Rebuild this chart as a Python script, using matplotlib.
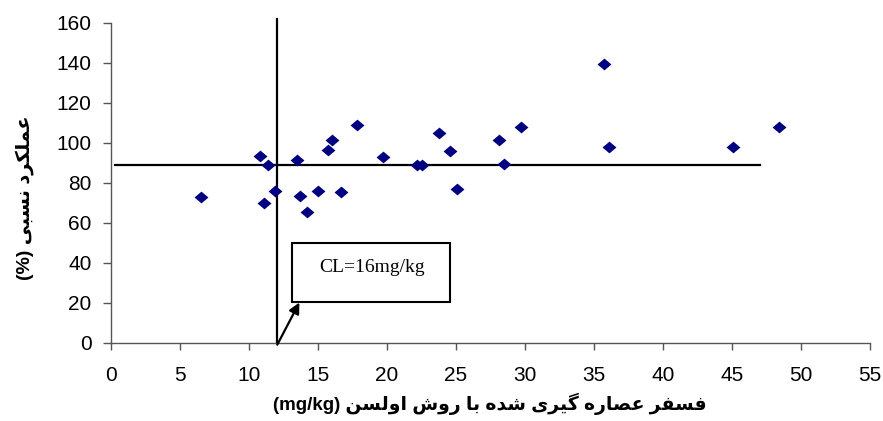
import matplotlib
matplotlib.use("Agg")
import matplotlib.pyplot as plt
from matplotlib.patches import Rectangle

# ---------------- data ----------------
olsen_p = [6.5, 10.8, 11.4, 11.1, 11.9, 13.5, 13.7, 14.2, 15.0, 15.7, 16.0, 16.7,
           17.8, 19.7, 22.2, 22.5, 23.8, 24.6, 25.1, 28.1, 28.5, 29.7, 35.7, 36.1,
           45.1, 48.4]
rel_yield = [72.7, 93.5, 88.7, 69.7, 76.0, 91.2, 73.5, 65.5, 75.8, 96.5, 101.5, 75.2,
             108.7, 92.7, 88.7, 88.7, 104.7, 95.8, 76.7, 101.6, 89.3, 107.8, 139.2, 97.7,
             97.7, 107.8]
critical_x = 12          # vertical critical-level line
critical_y = 89          # horizontal line
hline_x = [0.3, 47]
vline_y = [0, 162]
x_ticks = [0, 5, 10, 15, 20, 25, 30, 35, 40, 45, 50, 55]
y_ticks = [0, 20, 40, 60, 80, 100, 120, 140, 160]
annot_text = "CL=16mg/kg"
xlabel_fa = "فسفر عصاره گیری شده با روش اولسن"
xlabel_unit = "(mg/kg)"
ylabel_fa = "عملکرد نسبی"
ylabel_unit = "(%)"

# ---------------- minimal Arabic/Persian shaping ----------------
FORMS = {
    '\u0627': ('\uFE8D', '\uFE8E'),
    '\u062F': ('\uFEA9', '\uFEAA'),
    '\u0631': ('\uFEAD', '\uFEAE'),
    '\u0648': ('\uFEED', '\uFEEE'),
    '\u0628': ('\uFE8F', '\uFE90', '\uFE91', '\uFE92'),
    '\u0633': ('\uFEB1', '\uFEB2', '\uFEB3', '\uFEB4'),
    '\u0634': ('\uFEB5', '\uFEB6', '\uFEB7', '\uFEB8'),
    '\u0635': ('\uFEB9', '\uFEBA', '\uFEBB', '\uFEBC'),
    '\u0639': ('\uFEC9', '\uFECA', '\uFECB', '\uFECC'),
    '\u0641': ('\uFED1', '\uFED2', '\uFED3', '\uFED4'),
    '\u0644': ('\uFEDD', '\uFEDE', '\uFEDF', '\uFEE0'),
    '\u0645': ('\uFEE1', '\uFEE2', '\uFEE3', '\uFEE4'),
    '\u0646': ('\uFEE5', '\uFEE6', '\uFEE7', '\uFEE8'),
    '\u0647': ('\uFEE9', '\uFEEA', '\uFEEB', '\uFEEC'),
    '\u06A9': ('\uFB8E', '\uFB8F', '\uFB90', '\uFB91'),
    '\u06AF': ('\uFB92', '\uFB93', '\uFB94', '\uFB95'),
    '\u06CC': ('\uFBFC', '\uFBFD', '\uFBFE', '\uFBFF'),
}


def shape_rtl(text):
    out = []
    n = len(text)
    for i, ch in enumerate(text):
        if ch not in FORMS:
            out.append(ch)
            continue
        f = FORMS[ch]
        prev = text[i - 1] if i > 0 else None
        nxt = text[i + 1] if i + 1 < n else None
        join_prev = prev in FORMS and len(FORMS[prev]) == 4
        join_next = len(f) == 4 and nxt in FORMS
        if join_prev and join_next:
            out.append(f[3])
        elif join_prev:
            out.append(f[1])
        elif join_next:
            out.append(f[2])
        else:
            out.append(f[0])
    return "".join(out)[::-1]


xlabel_vis = xlabel_unit + " " + shape_rtl(xlabel_fa)
ylabel_vis = ylabel_unit + " " + shape_rtl(ylabel_fa)

# ---------------- figure ----------------
W, H = 883, 421
fig = plt.figure(figsize=(W / 100, H / 100), dpi=100)
ax = fig.add_axes([111 / W, (H - 342.7) / H, (870 - 111) / W, (342.7 - 18.3) / H])
ax.set_xlim(0, 55)
ax.set_ylim(0, 162.2)

sans = ['Liberation Sans', 'DejaVu Sans']
axis_col = '#555555'

for s in ('top', 'right'):
    ax.spines[s].set_visible(False)
ax.spines['left'].set_bounds(0, 160)
ax.spines['bottom'].set_bounds(0, 55)
for s in ('left', 'bottom'):
    ax.spines[s].set_color(axis_col)
    ax.spines[s].set_linewidth(1.0)

ax.set_xticks(x_ticks)
ax.set_yticks(y_ticks)
ax.set_xticklabels([str(v) for v in x_ticks], family=sans, fontsize=15)
ax.set_yticklabels([str(v) for v in y_ticks], family=sans, fontsize=15)
ax.tick_params(axis='x', direction='out', length=5, width=1, color=axis_col, pad=11.5)
ax.tick_params(axis='y', direction='out', length=5.5, width=1, color=axis_col, pad=8.5)

# reference lines
ax.plot([critical_x, critical_x], vline_y, color='black', lw=1.6, clip_on=False, zorder=2)
ax.plot(hline_x, [critical_y, critical_y], color='black', lw=1.6, zorder=2)

# data
diamond = [(-1, 0), (0, 0.85), (1, 0), (0, -0.85), (-1, 0)]
ax.plot(olsen_p, rel_yield, linestyle='none', marker=diamond, markersize=10,
        color='#000080', markeredgewidth=0, zorder=3)

# annotation box
box = Rectangle((13.09, 20.4), 24.55 - 13.09, 49.7 - 20.4, facecolor='white',
                edgecolor='black', lw=1.5, zorder=4)
ax.add_patch(box)
ax.text(18.9, 35.3, annot_text, family=['Liberation Serif', 'DejaVu Serif'],
        fontsize=14, ha='center', va='baseline', zorder=5)
ax.annotate('', xy=(13.65, 20.1), xytext=(12.05, -1.0),
            arrowprops=dict(arrowstyle='-|>', color='black', lw=1.6,
                            mutation_scale=16, shrinkA=0, shrinkB=0),
            annotation_clip=False, zorder=5)

# axis titles
fig.text(490 / W, 1 - 404 / H, xlabel_vis, family=sans, fontsize=13.5, weight='bold',
         ha='center', va='center')
fig.text(25 / W, 1 - 197.5 / H, ylabel_vis, family=sans, fontsize=14, weight='bold',
         ha='center', va='center', rotation=90)

fig.savefig('out.png', dpi=100)
